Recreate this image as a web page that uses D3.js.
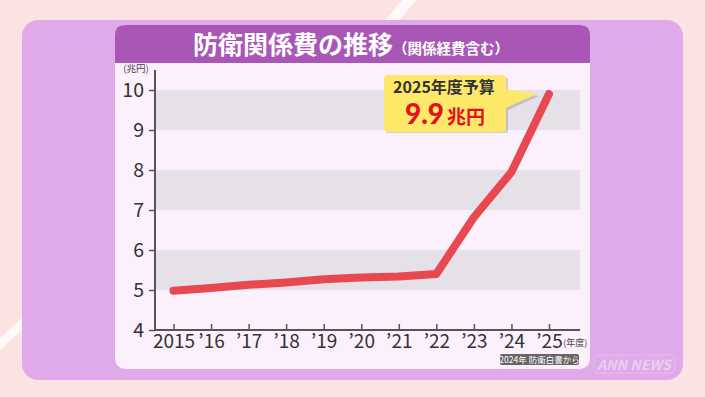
<!DOCTYPE html>
<html>
<head>
<meta charset="utf-8">
<script src="https://cdn.jsdelivr.net/npm/d3@7"></script>
<style>
  body { margin: 0; background: #fde2e2; }
  svg { display: block; }
  text { font-family: "Noto Sans CJK JP", "Noto Sans", sans-serif; }
</style>
</head>
<body>
<div id="chart"></div>
<script>
// data
const years = [2015, 2016, 2017, 2018, 2019, 2020, 2021, 2022, 2023, 2024, 2025];
const yearLabels = ["2015", "’16", "’17", "’18", "’19", "’20", "’21", "’22", "’23", "’24", "’25"];
const values = [4.98, 5.05, 5.13, 5.19, 5.27, 5.31, 5.34, 5.40, 6.82, 7.95, 9.9];
const yTickValues = [4, 5, 6, 7, 8, 9, 10];
const bands = [[5, 6], [7, 8], [9, 10]];

const W = 705, H = 397;
const svg = d3.select('#chart').append('svg')
    .attr('width', W)
    .attr('height', H);

// background stripes
svg.append('rect').attr('width', W).attr('height', H).attr('fill', '#fde2e2');
svg.append('path')
    .attr('d', 'M384,22 L402,0 L416,0 L398,22 Z')
    .attr('fill', '#fff').attr('opacity', 0.8);
svg.append('path')
    .attr('d', 'M0,338 L22,318 L22,330 L0,350 Z')
    .attr('fill', '#fff').attr('opacity', 0.8);

// outer purple panel
svg.append('rect')
    .attr('x', 22).attr('y', 20).attr('width', 661).attr('height', 360)
    .attr('rx', 16)
    .attr('fill', '#dfa9ea');

// card
svg.append('rect')
    .attr('x', 115).attr('y', 25).attr('width', 475).attr('height', 344)
    .attr('rx', 10)
    .attr('fill', '#fbf0fb');
// title bar
svg.append('path')
    .attr('d', 'M115,63 L115,35 Q115,25 125,25 L580,25 Q590,25 590,35 L590,63 Z')
    .attr('fill', '#a957b6');

const title = svg.append('text')
    .attr('x', 351).attr('y', 54)
    .attr('text-anchor', 'middle')
    .attr('fill', '#fff')
    .attr('font-weight', 'bold');
title.append('tspan').attr('font-size', 25).text('防衛関係費の推移');
title.append('tspan').attr('font-size', 14.5).text('（関係経費含む）');

// scales
const plotLeft = 155, plotRight = 580, plotTop = 90, plotBottom = 330;
const x = d3.scalePoint()
    .domain(years)
    .range([173.5, 549]);
const y = d3.scaleLinear()
    .domain([4, 10])
    .range([plotBottom, plotTop]);

// bands
svg.append('g').selectAll('rect')
    .data(bands)
    .enter().append('rect')
        .attr('x', plotLeft)
        .attr('y', d => y(d[1]))
        .attr('width', plotRight - plotLeft)
        .attr('height', d => y(d[0]) - y(d[1]))
        .attr('fill', '#e6e0e8');

// y axis
const yAxis = svg.append('g')
    .attr('transform', `translate(${plotLeft},0)`)
    .call(d3.axisLeft(y).tickValues(yTickValues).tickFormat(d3.format('d'))
        .tickSize(6).tickPadding(5).tickSizeOuter(0));
yAxis.select('.domain').attr('stroke', '#555').attr('stroke-width', 2)
    .attr('d', `M0,${plotTop - 20}V${plotBottom}`);
yAxis.selectAll('.tick line').attr('stroke', '#555').attr('stroke-width', 1.5);
yAxis.selectAll('.tick text')
    .attr('font-size', 19.5)
    .attr('fill', '#333')
    .attr('font-family', 'Lato, "Noto Sans", sans-serif');

// x axis
const xAxis = svg.append('g')
    .attr('transform', `translate(0,${plotBottom})`)
    .call(d3.axisBottom(x).tickSize(-6).tickPadding(4).tickSizeOuter(0)
        .tickFormat((d, i) => yearLabels[i]));
xAxis.select('.domain').attr('stroke', '#555').attr('stroke-width', 2)
    .attr('d', `M${plotLeft},0H${plotRight}`);
xAxis.selectAll('.tick line').attr('stroke', '#555').attr('stroke-width', 1.5);
xAxis.selectAll('.tick text')
    .attr('font-size', 19)
    .attr('fill', '#333')
    .attr('dy', '0.71em')
    .attr('font-family', 'Lato, "Noto Sans", sans-serif');

// unit labels
svg.append('text')
    .attr('x', 136).attr('y', 71.5)
    .attr('text-anchor', 'middle')
    .attr('font-size', 9.5)
    .attr('fill', '#444')
    .text('(兆円)');
const lastTick = xAxis.selectAll('.tick text').nodes().pop().getBBox();
svg.append('text')
    .attr('x', x(years[years.length - 1]) + lastTick.width / 2 + 1).attr('y', 346)
    .attr('font-size', 9)
    .attr('fill', '#444')
    .text('(年度)');

// source badge
svg.append('rect')
    .attr('x', 500).attr('y', 354).attr('width', 79).attr('height', 11)
    .attr('rx', 2)
    .attr('fill', '#666');
svg.append('text')
    .attr('x', 539.5).attr('y', 362.5)
    .attr('text-anchor', 'middle')
    .attr('font-size', 8.5)
    .attr('fill', '#fff')
    .text('2024年 防衛白書から');

// line
svg.append('path')
    .datum(values)
    .attr('fill', 'none')
    .attr('stroke', '#e8484f')
    .attr('stroke-width', 8)
    .attr('stroke-linecap', 'round')
    .attr('stroke-linejoin', 'round')
    .attr('d', d3.line()
        .x((d, i) => x(years[i]))
        .y(d => y(d)));

// callout
const last = values[values.length - 1];
const cx = x(years[years.length - 1]);
const callout = svg.append('g');
callout.append('path')
    .attr('d', `M384,76 L506,76 L506,90 L${cx - 12},${y(last)} L506,108 L506,131 L384,131 Z`)
    .attr('fill', '#000').attr('opacity', 0.15)
    .attr('transform', 'translate(2,2)');
callout.append('path')
    .attr('d', `M388,75 L502,75 Q506,75 506,79 L506,89 L${cx - 12},${y(last)} L506,108 L506,128 Q506,132 502,132 L388,132 Q384,132 384,128 L384,79 Q384,75 388,75 Z`)
    .attr('fill', '#fde86a');
callout.append('text')
    .attr('x', 444).attr('y', 93)
    .attr('text-anchor', 'middle')
    .attr('font-size', 16)
    .attr('font-weight', 'bold')
    .attr('fill', '#333')
    .text('2025年度予算');
const big = callout.append('text')
    .attr('x', 445).attr('y', 124)
    .attr('text-anchor', 'middle')
    .attr('font-weight', 'bold')
    .attr('fill', '#e3101d');
big.append('tspan').attr('font-size', 28)
    .attr('font-family', 'Lato, "Noto Sans", sans-serif')
    .attr('font-weight', 900)
    .text(last);
big.append('tspan').attr('font-size', 19).attr('dx', 3).text('兆円');

// logo
svg.append('rect')
    .attr('x', 594).attr('y', 355).attr('width', 81).attr('height', 18)
    .attr('rx', 5)
    .attr('fill', 'none')
    .attr('stroke', '#fff').attr('stroke-opacity', 0.25);
svg.append('text')
    .attr('x', 634).attr('y', 370)
    .attr('text-anchor', 'middle')
    .attr('font-size', 14)
    .attr('font-weight', 'bold')
    .attr('font-style', 'italic')
    .attr('fill', '#fff').attr('fill-opacity', 0.45)
    .text('ANN NEWS');
</script>
</body>
</html>
